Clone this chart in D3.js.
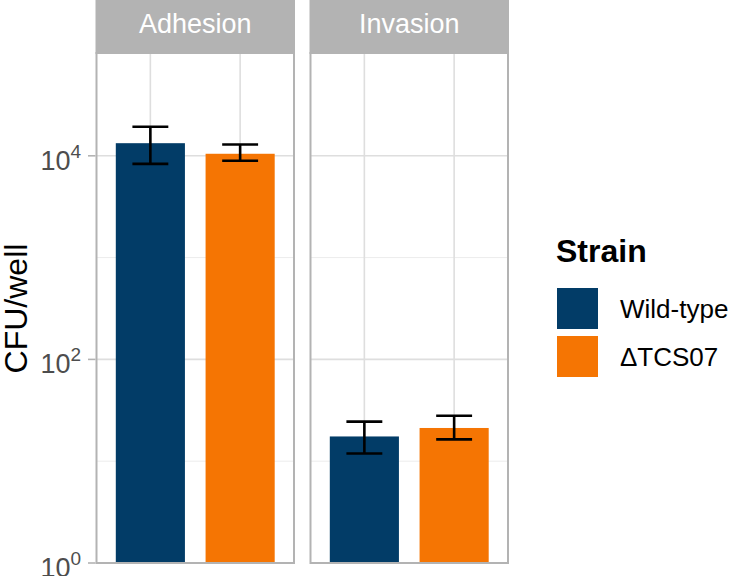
<!DOCTYPE html>
<html>
<head>
<meta charset="utf-8">
<script src="https://cdn.jsdelivr.net/npm/d3@7"></script>
<style>
  html, body { margin: 0; padding: 0; background: #fff; }
  svg { display: block; font-family: "Liberation Sans", Arial, sans-serif; }
</style>
</head>
<body>
<svg id="chart" width="729" height="576"></svg>
<script>
// ---- data ----
const facets = ["Adhesion", "Invasion"];
const strains = ["Wild-type", "\u0394TCS07"];
const meanWildType = [13300, 17.5];
const meanDelta = [10470, 21.2];
const lowerWildType = [8340, 11.9];
const upperWildType = [19300, 24.5];
const lowerDelta = [8930, 16.4];
const upperDelta = [12900, 28.0];
const majorTicks = [1, 100, 10000];
const tickExponents = ["0", "2", "4"];
const minorTicks = [10, 1000];
const colors = ["#023C67", "#F57503"];

// ---- layout ----
const svg = d3.select("#chart");
const panelTop = 54, panelBottom = 563;
const panelLefts = [96.5, 310.5];
const panelWidth = 197.5;
const stripTop = 0;

const y = d3.scaleLog().domain([1, 1e5]).range([panelBottom, panelTop]);
const color = d3.scaleOrdinal().domain(strains).range(colors);

const rows = facets.map((f, i) => [
  { facet: f, strain: strains[0], mean: meanWildType[i], lo: lowerWildType[i], hi: upperWildType[i] },
  { facet: f, strain: strains[1], mean: meanDelta[i], lo: lowerDelta[i], hi: upperDelta[i] }
]);

facets.forEach((f, i) => {
  const x0 = panelLefts[i];
  const x = d3.scalePoint().domain(strains).range([x0, x0 + panelWidth]).padding(0.6);
  const step = x.step();
  const g = svg.append("g");

  // grid
  g.selectAll(".minor").data(minorTicks).join("line")
    .attr("x1", x0).attr("x2", x0 + panelWidth)
    .attr("y1", d => y(d)).attr("y2", d => y(d))
    .attr("stroke", "#ececec").attr("stroke-width", 1);
  g.selectAll(".major").data(majorTicks).join("line")
    .attr("x1", x0).attr("x2", x0 + panelWidth)
    .attr("y1", d => y(d)).attr("y2", d => y(d))
    .attr("stroke", "#dedede").attr("stroke-width", 1.6);
  g.selectAll(".vgrid").data(strains).join("line")
    .attr("x1", d => x(d)).attr("x2", d => x(d))
    .attr("y1", panelTop).attr("y2", panelBottom)
    .attr("stroke", "#dedede").attr("stroke-width", 1.6);

  // bars
  const bw = step * 0.77;
  g.selectAll(".bar").data(rows[i]).join("rect")
    .attr("x", d => x(d.strain) - bw / 2).attr("width", bw)
    .attr("y", d => y(d.mean)).attr("height", d => y(1) - y(d.mean))
    .attr("fill", d => color(d.strain));

  // error bars
  const cw = step * 0.4;
  const eb = g.selectAll(".eb").data(rows[i]).join("g").attr("stroke", "#000").attr("stroke-width", 2.6);
  eb.append("line").attr("x1", d => x(d.strain)).attr("x2", d => x(d.strain))
    .attr("y1", d => y(d.lo)).attr("y2", d => y(d.hi));
  eb.append("line").attr("x1", d => x(d.strain) - cw / 2).attr("x2", d => x(d.strain) + cw / 2)
    .attr("y1", d => y(d.lo)).attr("y2", d => y(d.lo));
  eb.append("line").attr("x1", d => x(d.strain) - cw / 2).attr("x2", d => x(d.strain) + cw / 2)
    .attr("y1", d => y(d.hi)).attr("y2", d => y(d.hi));

  // panel border
  g.append("rect").attr("x", x0).attr("y", panelTop - 1).attr("width", panelWidth)
    .attr("height", panelBottom - panelTop + 1)
    .attr("fill", "none").attr("stroke", "#b3b3b3").attr("stroke-width", 2);
  // strip
  g.append("rect").attr("x", x0 - 1).attr("y", stripTop).attr("width", panelWidth + 2)
    .attr("height", panelTop - stripTop).attr("fill", "#b3b3b3");
  g.append("text").attr("x", x0 + panelWidth / 2).attr("y", 32.5)
    .attr("text-anchor", "middle").attr("fill", "#ffffff").attr("font-size", 27).text(f);
});

// y axis ticks and labels
const ax = svg.append("g");
ax.selectAll("line").data(majorTicks).join("line")
  .attr("x1", 88).attr("x2", panelLefts[0] - 1)
  .attr("y1", d => y(d)).attr("y2", d => y(d))
  .attr("stroke", "#b3b3b3").attr("stroke-width", 1.6);
const tl = ax.selectAll("text").data(majorTicks).join("text")
  .attr("x", 81).attr("y", d => y(d) + 14)
  .attr("text-anchor", "end").attr("fill", "#4d4d4d").attr("font-size", 27);
tl.append("tspan").text("10");
tl.append("tspan").attr("dy", -12).attr("font-size", 19).text((d, i) => tickExponents[i]);

// y axis title
svg.append("text").attr("transform", `translate(27,${(panelTop + panelBottom) / 2}) rotate(-90)`)
  .attr("text-anchor", "middle").attr("fill", "#000").attr("font-size", 32).text("CFU/well");

// legend
const lg = svg.append("g");
lg.append("text").attr("x", 556).attr("y", 262).attr("font-size", 32).attr("font-weight", "bold")
  .attr("fill", "#000").text("Strain");
const items = lg.selectAll(".item").data(strains).join("g")
  .attr("transform", (d, i) => `translate(557,${288 + i * 48})`);
items.append("rect").attr("width", 41).attr("height", 41).attr("fill", d => color(d));
items.append("text").attr("x", 63).attr("y", 30).attr("font-size", 26).attr("fill", "#000").text(d => d);
</script>
</body>
</html>
